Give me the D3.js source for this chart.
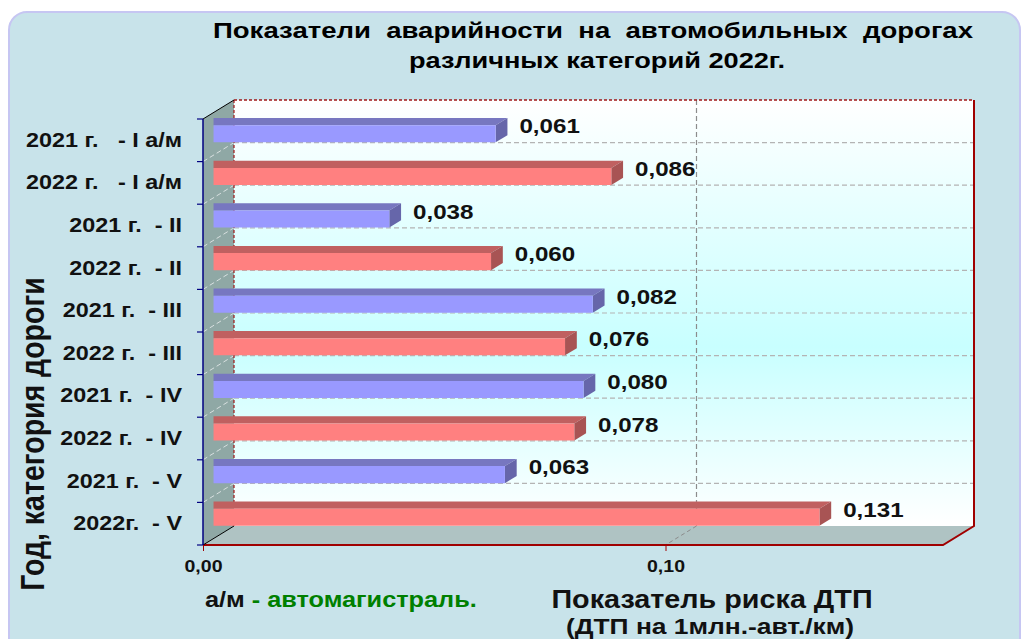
<!DOCTYPE html>
<html>
<head>
<meta charset="utf-8">
<style>
  body { margin: 0; background: #fff; }
  svg { display: block; font-family: 'Liberation Sans', Arial, sans-serif; font-weight: bold; }
</style>
<script src="https://cdn.jsdelivr.net/npm/d3@7"></script>
</head>
<body>
<script>
// data
var categories = ["2021 г.   - I а/м", "2022 г.   - I а/м", "2021 г.  - II", "2022 г.  - II",
  "2021 г.  - III", "2022 г.  - III", "2021 г.  - IV", "2022 г.  - IV", "2021 г.  - V", "2022г.  - V"];
var values = [0.061, 0.086, 0.038, 0.060, 0.082, 0.076, 0.080, 0.078, 0.063, 0.131];
var years = [2021, 2022, 2021, 2022, 2021, 2022, 2021, 2022, 2021, 2022];
var xTicks = [0, 0.10];

var W = 1024, H = 639;
// 3d depth offset
var DX = 31, DY = 19;
var f1 = 0.34, f2 = 0.72;
var SX = 1.15; // the original text is drawn a bit wide

var x = d3.scaleLinear().domain([0, 0.16]).range([203, 943]);
var y = d3.scaleBand().domain(categories).range([119, 545]);
var fmt = function (v) { return d3.format(".3f")(v).replace(".", ","); };

function P(v, yy, f) { return [x(v) + f * DX, yy - f * DY]; }
function poly(pts) { return pts.map(function (p) { return p.join(","); }).join(" "); }
function wideText(px, py, sx) {
  return svg.append("text").attr("transform", "translate(" + px + "," + py + ") scale(" + (sx || SX) + ",1)");
}

var colors = {
  2021: { front: "#9999ff", top: "#7777c0", side: "#6666aa" },
  2022: { front: "#ff8080", top: "#c06060", side: "#a85454" }
};

var svg = d3.select("body").append("svg").attr("width", W).attr("height", H);
var defs = svg.append("defs");
var grad = defs.append("linearGradient").attr("id", "wall").attr("x1", 0).attr("y1", 0).attr("x2", 0).attr("y2", 1);
grad.append("stop").attr("offset", "0%").attr("stop-color", "#ffffff");
grad.append("stop").attr("offset", "58%").attr("stop-color", "#c8ffff");
grad.append("stop").attr("offset", "100%").attr("stop-color", "#ffffff");

// outer panel
svg.append("rect").attr("x", 9).attr("y", 12).attr("width", 1011).attr("height", 700)
  .attr("rx", 18).attr("fill", "#c8e3ea").attr("stroke", "#c6c6f2").attr("stroke-width", 2);

// title
svg.append("text").attr("x", 213).attr("y", 38).attr("font-size", 22)
  .attr("textLength", 760).attr("lengthAdjust", "spacingAndGlyphs").style("white-space", "pre")
  .text("Показатели  аварийности  на  автомобильных  дорогах");
svg.append("text").attr("x", 409).attr("y", 68).attr("font-size", 22)
  .attr("textLength", 376).attr("lengthAdjust", "spacingAndGlyphs")
  .text("различных категорий 2022г.");

var y0 = y.range()[0], y1 = y.range()[1], xmax = x.domain()[1];

// back wall
svg.append("polygon")
  .attr("points", poly([P(0, y0, 1), P(xmax, y0, 1), P(xmax, y1, 1), P(0, y1, 1)]))
  .attr("fill", "url(#wall)");
// left wall
svg.append("polygon")
  .attr("points", poly([P(0, y0, 0), P(0, y0, 1), P(0, y1, 1), P(0, y1, 0)]))
  .attr("fill", "#8fa8a5");
// floor
svg.append("polygon")
  .attr("points", poly([P(0, y1, 0), P(xmax, y1, 0), P(xmax, y1, 1), P(0, y1, 1)]))
  .attr("fill", "#afc3c3");

// gridlines
var bounds = d3.range(1, categories.length).map(function (i) { return y0 + i * y.step(); });
bounds.forEach(function (b) {
  var a = P(0, b, 1), c = P(xmax, b, 1);
  svg.append("line").attr("x1", a[0]).attr("y1", a[1]).attr("x2", c[0]).attr("y2", c[1])
    .attr("stroke", "#b4b4b4").attr("stroke-width", 1.2).attr("stroke-dasharray", "5,3");
  var s = P(0, b, 0);
  svg.append("line").attr("x1", s[0]).attr("y1", s[1]).attr("x2", a[0]).attr("y2", a[1])
    .attr("stroke", "#d8e0e0").attr("stroke-width", 1).attr("stroke-dasharray", "5,3");
});
xTicks.filter(function (t) { return t > 0; }).forEach(function (t) {
  var a = P(t, y0, 1), b = P(t, y1, 1), c = P(t, y1, 0);
  svg.append("line").attr("x1", a[0]).attr("y1", a[1]).attr("x2", b[0]).attr("y2", b[1])
    .attr("stroke", "#8c8c8c").attr("stroke-width", 1.2).attr("stroke-dasharray", "5,3");
  svg.append("line").attr("x1", b[0]).attr("y1", b[1]).attr("x2", c[0]).attr("y2", c[1])
    .attr("stroke", "#8c8c8c").attr("stroke-width", 1).attr("stroke-dasharray", "4,3");
});

// wall borders
var bl = P(0, y0, 1), br = P(xmax, y0, 1), bbl = P(0, y1, 1), bbr = P(xmax, y1, 1);
svg.append("line").attr("x1", bl[0]).attr("y1", bl[1]).attr("x2", br[0]).attr("y2", br[1])
  .attr("stroke", "#a01818").attr("stroke-width", 1.5).attr("stroke-dasharray", "3,2");
svg.append("line").attr("x1", bl[0]).attr("y1", bl[1]).attr("x2", bbl[0]).attr("y2", bbl[1])
  .attr("stroke", "#a01818").attr("stroke-width", 1.2).attr("stroke-dasharray", "3,2");
svg.append("polyline").attr("points", poly([br, bbr, P(xmax, y1, 0), P(0, y1, 0)]))
  .attr("fill", "none").attr("stroke", "#a00000").attr("stroke-width", 2);
[[P(0, y0, 0), P(0, y0, 1)], [P(0, y1, 0), P(0, y1, 1)]].forEach(function (l) {
  svg.append("line").attr("x1", l[0][0]).attr("y1", l[0][1]).attr("x2", l[1][0]).attr("y2", l[1][1])
    .attr("stroke", "#000").attr("stroke-width", 1);
});

// bars
var bars = svg.selectAll("g.bar").data(categories.map(function (c, i) {
  return { cat: c, v: values[i], year: years[i] };
})).enter().append("g").attr("class", "bar");

bars.each(function (d) {
  var g = d3.select(this), col = colors[d.year];
  var yT = y(d.cat) + y.bandwidth() * 0.3, yB = y(d.cat) + y.bandwidth() * 0.7;
  g.append("polygon").attr("fill", col.top)
    .attr("points", poly([P(0, yT, f1), P(d.v, yT, f1), P(d.v, yT, f2), [P(0, yT, f1)[0], P(0, yT, f2)[1]]]));
  g.append("polygon").attr("fill", col.side)
    .attr("points", poly([P(d.v, yT, f1), P(d.v, yT, f2), P(d.v, yB, f2), P(d.v, yB, f1)]));
  g.append("polygon").attr("fill", col.front)
    .attr("points", poly([P(0, yT, f1), P(d.v, yT, f1), P(d.v, yB, f1), P(0, yB, f1)]));
});
bars.each(function (d) {
  var e = P(d.v, 0, f2);
  wideText(e[0] + 12, y(d.cat) + y.bandwidth() / 2 - 7)
    .attr("font-size", 21).attr("fill", "#111").text(fmt(d.v));
});

// y axis (front)
svg.append("line").attr("x1", 203).attr("x2", 203).attr("y1", y0).attr("y2", y1)
  .attr("stroke", "#000080").attr("stroke-width", 1.5);
d3.range(0, categories.length + 1).forEach(function (i) {
  var b = y0 + i * y.step();
  svg.append("line").attr("x1", 197).attr("x2", 203).attr("y1", b).attr("y2", b)
    .attr("stroke", "#000080").attr("stroke-width", 1.2);
});
var yAxis = svg.append("g").attr("transform", "translate(203,0)")
  .call(d3.axisLeft(y).tickSize(0).tickPadding(21));
yAxis.select(".domain").remove();
yAxis.selectAll(".tick text").each(function () {
  var t = d3.select(this);
  t.attr("transform", "translate(-21,0) scale(1.17,1)").attr("x", 0);
})
  .attr("font-size", 20).attr("font-family", "'Liberation Sans', Arial, sans-serif")
  .attr("font-weight", "bold").attr("fill", "#111").style("white-space", "pre");

// x axis (front)
var xAxis = svg.append("g").attr("transform", "translate(0," + y1 + ")")
  .call(d3.axisBottom(x).tickValues(xTicks).tickSize(6).tickPadding(9)
    .tickFormat(function (d) { return d3.format(".2f")(d).replace(".", ","); }));
xAxis.select(".domain").remove();
xAxis.selectAll("line").attr("stroke", "#a00000");
xAxis.selectAll(".tick text")
  .style("font-size", "17px").style("font-weight", "bold")
  .style("font-family", "'Liberation Sans', Arial, sans-serif")
  .attr("fill", "#111").attr("transform", "scale(1.15,1)");

// axis titles
svg.append("text").attr("transform", "translate(44,434) scale(1.15,1) rotate(-90)").attr("text-anchor", "middle")
  .attr("font-size", 28.5).attr("fill", "#111").text("Год, категория дороги");
wideText(712, 608).attr("text-anchor", "middle")
  .attr("font-size", 25).attr("fill", "#111").text("Показатель риска ДТП");
wideText(710, 634, 1.2).attr("text-anchor", "middle")
  .attr("font-size", 22).attr("fill", "#111").text("(ДТП на 1млн.-авт./км)");

// note
var note = wideText(205, 607).attr("font-size", 22);
note.append("tspan").attr("fill", "#111").text("а/м");
note.append("tspan").attr("fill", "#008000").text(" - автомагистраль.");
</script>
</body>
</html>
